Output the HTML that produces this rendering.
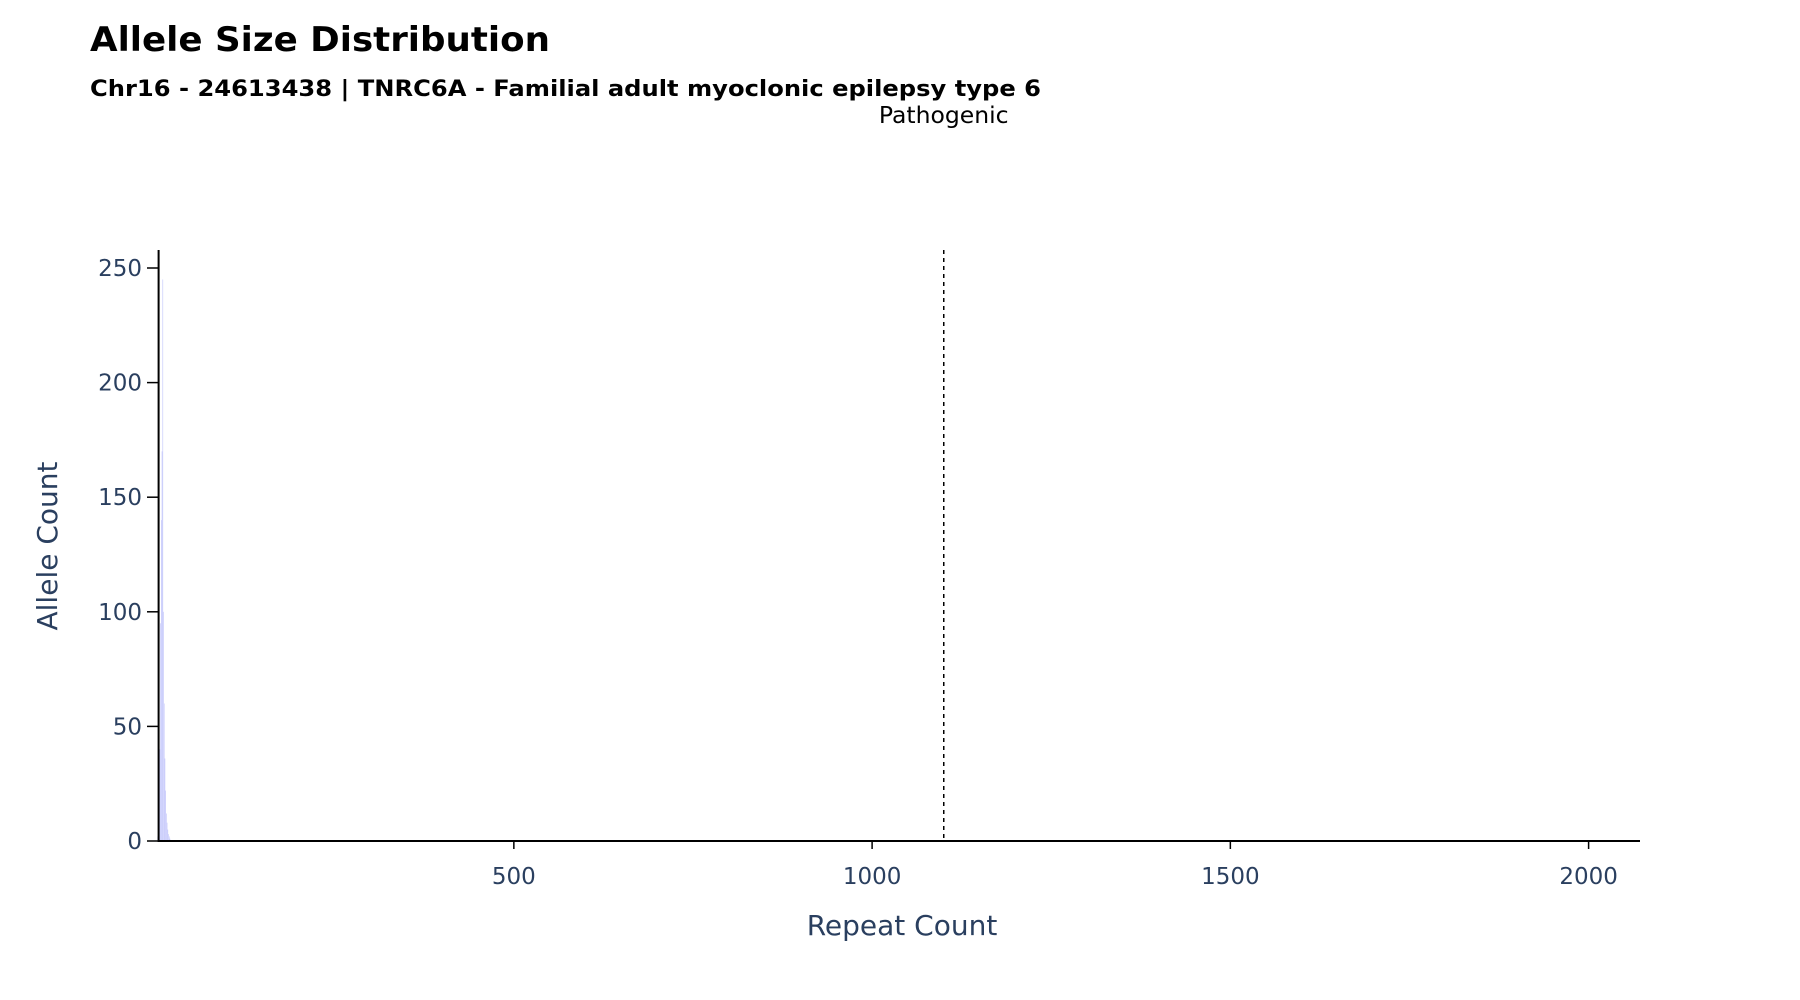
<!DOCTYPE html>
<html><head><meta charset="utf-8"><style>
html,body{margin:0;padding:0;background:#fff;}
svg{display:block;font-family:"DejaVu Sans","Liberation Sans",sans-serif;}
</style></head><body>
<svg id="chart" width="1800" height="1000" viewBox="0 0 1800 1000">
<text x="90" y="51" font-size="34" font-weight="bold" fill="#000" textLength="460" lengthAdjust="spacingAndGlyphs">Allele Size Distribution</text>
<text x="90" y="96" font-size="22" font-weight="bold" fill="#000" textLength="951" lengthAdjust="spacingAndGlyphs">Chr16 - 24613438 | TNRC6A - Familial adult myoclonic epilepsy type 6</text>
<g id="bars"></g>
<g id="xticks"></g>
<g id="yticks"></g>
<line x1="158.6" y1="250" x2="158.6" y2="842" stroke="#000" stroke-width="2"/>
<line x1="158" y1="841" x2="1640" y2="841" stroke="#000" stroke-width="2"/>
<line id="thresh" x1="944" y1="250" x2="944" y2="841" stroke="#000" stroke-width="1.5" stroke-dasharray="4,4"/>
<text id="threshLabel" x="944" y="123" font-size="23.5" text-anchor="middle" fill="#000">Pathogenic</text>
<text x="902" y="935" font-size="28" text-anchor="middle" fill="#2a3f5f">Repeat Count</text>
<text transform="translate(57,546) rotate(-90)" font-size="28" text-anchor="middle" fill="#2a3f5f">Allele Count</text>
</svg>
<script>
const repeats = [3,4,5,6,7,8,9,10,11,12,13,14,15,16,17,18,19,20];
const counts  = [2,5,15,40,95,140,170,245,100,60,36,22,12,8,5,3,2,1];
const xTickVals = [500,1000,1500,2000];
const yTickVals = [0,50,100,150,200,250];
const threshold = [1100];

const X0 = 155.6, XS = 0.7165, Y0 = 841, YS = (841-268)/250;
const xs = v => X0 + v*XS;
const ys = v => Y0 - v*YS;
const NS = "http://www.w3.org/2000/svg";
const bars = document.getElementById('bars');
repeats.forEach((r,i)=>{
  const b = document.createElementNS(NS,'rect');
  b.setAttribute('x', xs(r-0.5));
  b.setAttribute('width', XS);
  b.setAttribute('y', ys(counts[i]));
  b.setAttribute('height', Y0 - ys(counts[i]));
  b.setAttribute('fill', '#c9ccfb');
  
  
  bars.appendChild(b);
});
const xt = document.getElementById('xticks');
xTickVals.forEach(v=>{
  const l = document.createElementNS(NS,'line');
  l.setAttribute('x1', xs(v)); l.setAttribute('x2', xs(v));
  l.setAttribute('y1', 841); l.setAttribute('y2', 849);
  l.setAttribute('stroke', '#000'); l.setAttribute('stroke-width', '1.5');
  
  
  xt.appendChild(l);
  const t = document.createElementNS(NS,'text');
  t.setAttribute('x', xs(v)); t.setAttribute('y', 884);
  t.setAttribute('font-size', '23'); t.setAttribute('fill', '#2a3f5f');
  t.setAttribute('text-anchor', 'middle');
  t.textContent = v;
  
  
  xt.appendChild(t);
});
const yt = document.getElementById('yticks');
yTickVals.forEach(v=>{
  const l = document.createElementNS(NS,'line');
  l.setAttribute('x1', 147); l.setAttribute('x2', 158.6);
  l.setAttribute('y1', ys(v)); l.setAttribute('y2', ys(v));
  l.setAttribute('stroke', '#000'); l.setAttribute('stroke-width', '1.5');
  
  
  yt.appendChild(l);
  const t = document.createElementNS(NS,'text');
  t.setAttribute('x', 142); t.setAttribute('y', ys(v)+8);
  t.setAttribute('font-size', '23'); t.setAttribute('fill', '#2a3f5f');
  t.setAttribute('text-anchor', 'end');
  t.textContent = v;
  
  
  yt.appendChild(t);
});
const th = document.getElementById('thresh');
th.setAttribute('x1', xs(threshold[0])); th.setAttribute('x2', xs(threshold[0]));
document.getElementById('threshLabel').setAttribute('x', xs(threshold[0]));
</script>
</body></html>
